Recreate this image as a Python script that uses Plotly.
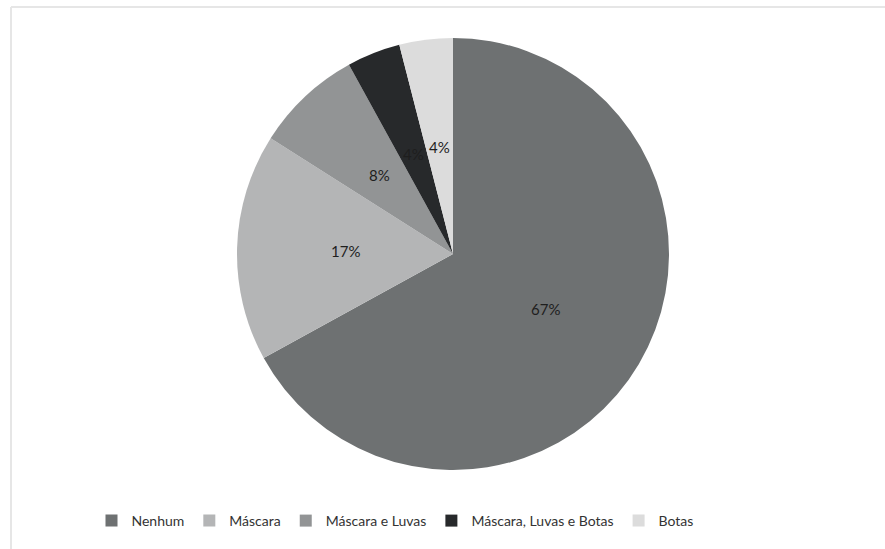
import math
import plotly.graph_objects as go

# Protective equipment used (share of respondents)
categorias = ["Nenhum", "Máscara", "Máscara e Luvas", "Máscara, Luvas e Botas", "Botas"]
percentuais = [67, 17, 8, 4, 4]
cores = ["#6e7172", "#b4b5b6", "#929495", "#27292b", "#dcdcdc"]

W, H = 885, 549
cx, cy, r = 453, 254, 216  # pie centre and radius in pixels
label_frac = 0.5           # labels sit halfway between centre and rim

fig = go.Figure(
    go.Pie(
        labels=categorias,
        values=percentuais,
        marker=dict(colors=cores, line=dict(width=0)),
        sort=False,
        direction="clockwise",
        rotation=0,
        textinfo="none",
        hoverinfo="label+percent",
        domain=dict(
            x=[(cx - r) / W, (cx + r) / W],
            y=[(H - cy - r) / H, (H - cy + r) / H],
        ),
    )
)

# percentage labels at the mid-angle of each slice
total = sum(percentuais)
acum = 0
for v in percentuais:
    theta = 2 * math.pi * (acum + v / 2) / total
    acum += v
    px = cx + label_frac * r * math.sin(theta)
    py = cy - label_frac * r * math.cos(theta)
    fig.add_annotation(
        x=px / W, y=1 - py / H, xref="paper", yref="paper",
        text=f"{v}%", showarrow=False,
        font=dict(family="Lato", size=15, color="#1e1e1e"),
        xanchor="center", yanchor="middle",
    )

# light frame along the top and left edges
fig.add_shape(type="line", xref="paper", yref="paper",
              x0=11 / W, x1=1, y0=1 - 7 / H, y1=1 - 7 / H,
              line=dict(color="#e6e6e6", width=2))
fig.add_shape(type="line", xref="paper", yref="paper",
              x0=11 / W, x1=11 / W, y0=0, y1=1 - 7 / H,
              line=dict(color="#e6e6e6", width=2))

fig.update_layout(
    width=W,
    height=H,
    margin=dict(l=0, r=0, t=0, b=0),
    paper_bgcolor="white",
    plot_bgcolor="white",
    showlegend=True,
    legend=dict(
        orientation="h",
        x=395 / W,
        xanchor="center",
        y=(H - 521) / H,
        yanchor="middle",
        font=dict(family="Lato", size=14, color="#333333"),
        itemwidth=30,
        traceorder="normal",
    ),
)

fig.write_html("out.html")
